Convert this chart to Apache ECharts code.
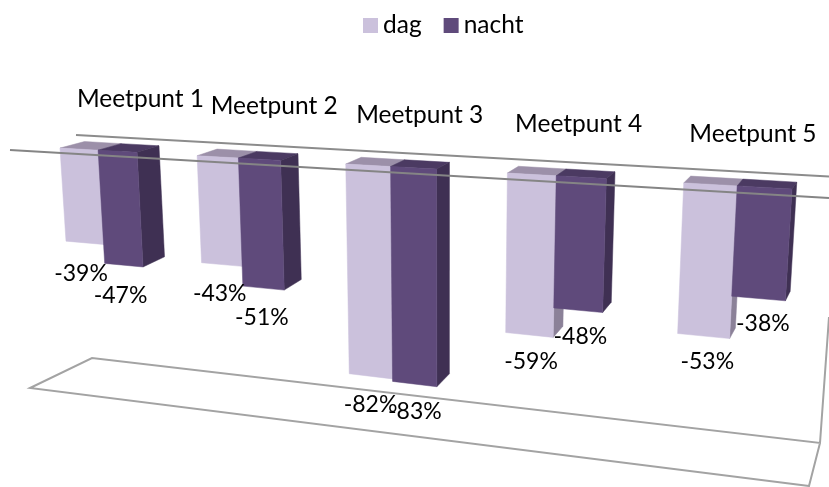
<!DOCTYPE html>
<html><head><meta charset="utf-8">
<style>html,body{margin:0;padding:0;background:#fff}#c{width:829px;height:487px}</style>
<script src="https://cdn.jsdelivr.net/npm/echarts@6/dist/echarts.min.js"></script>
</head><body><div id="c"></div>
<script>
const categories = ['Meetpunt 1','Meetpunt 2','Meetpunt 3','Meetpunt 4','Meetpunt 5'];
const dag = [-39,-43,-82,-59,-53];
const nacht = [-47,-51,-83,-48,-38];

const FONT = 'Lato, "Open Sans", sans-serif';

// homography from unit square to quad (p00,p10,p11,p01)
function quad(p00,p10,p11,p01){
  const [x0,y0]=p00,[x1,y1]=p10,[x2,y2]=p11,[x3,y3]=p01;
  const dx1=x1-x2,dx2=x3-x2,sx=x0-x1+x2-x3,dy1=y1-y2,dy2=y3-y2,sy=y0-y1+y2-y3;
  const det=dx1*dy2-dx2*dy1;
  const g=(sx*dy2-dx2*sy)/det,h=(dx1*sy-sx*dy1)/det;
  const a=x1-x0+g*x1,b=x3-x0+h*x3,d=y1-y0+g*y1,e=y3-y0+h*y3;
  return (u0,v)=>{const u=u0+0.028*u0*(1-u0);const w=g*u+h*v+1;return [(a*u+b*v+x0)/w,(d*u+e*v+y0)/w];};
}
const frontPlane = quad([32,146.5],[834,191.3],[815,479.8],[48,377.5]);
const backPlane  = quad([57.5,140],[838,184.5],[819,466],[72.5,363.5]);

const BAR = 0.286/5;  // bar width as share of the plot (gap width 150%)

function barItem(side, cols){
  return function(params, api){
    const cs = params.coordSys;
    const c = api.coord([api.value(0), api.value(1)]);
    const o = api.coord([api.value(0), 0]);
    const mid = (c[0]-cs.x)/cs.width;
    const s = (c[1]-cs.y)/cs.height, s0 = (o[1]-cs.y)/cs.height;
    const u0 = side<0 ? mid-BAR : mid, u1 = side<0 ? mid : mid+BAR;
    const F=frontPlane,B=backPlane;
    const poly=(pts,fill)=>({type:'polygon',shape:{points:pts},style:{fill:fill,stroke:fill,lineWidth:0.5},silent:true});
    const fb=F(u0,s),fr=F(u1,s);
    const lx=(fb[0]+fr[0])/2, ly=(fb[1]+fr[1])/2;
    return {type:'group',children:[
      poly([F(u0,s0),F(u1,s0),B(u1,s0),B(u0,s0)],cols.top),
      poly([F(u1,s0),B(u1,s0),B(u1,s),F(u1,s)],cols.side),
      poly([F(u0,s0),F(u1,s0),F(u1,s),F(u0,s)],cols.front),
      {type:'text',z2:100,style:{text:api.value(1)+'%',x:lx+(lx-400)*0.012,y:ly+28-(lx-400)*0.008,align:'center',verticalAlign:'middle',font:'23px '+FONT,fill:'#000'}}
    ]};
  };
}
function catItem(params, api){
  const cs=params.coordSys;
  const c=api.coord([api.value(0),0]);
  const p=backPlane((c[0]-cs.x)/cs.width,0);
  return {type:'text',style:{text:categories[api.value(0)],x:p[0]+19-(p[0]-135)*0.015,y:p[1]-45,align:'center',verticalAlign:'middle',font:'24.5px '+FONT,fill:'#000'}};
}
const toData = a => a.map((v,i)=>[i,v]);
const line = (pts,stroke,z)=>({type:'polyline',z:z,silent:true,shape:{points:pts},style:{fill:null,stroke:stroke,lineWidth:2}});

const chart = echarts.init(document.getElementById('c'),null,{renderer:'canvas'});
chart.setOption({
  animation:false,
  backgroundColor:'#fff',
  legend:{data:['dag','nacht'],left:358,top:8,itemWidth:15,itemHeight:15,itemGap:22,icon:'rect',
    textStyle:{fontFamily:FONT,fontSize:24.5,color:'#000'},selectedMode:false},
  grid:{left:0,right:0,top:0,bottom:0},
  xAxis:{type:'category',data:categories,show:false},
  yAxis:{type:'value',min:-100,max:0,show:false},
  graphic:[
    line([[76,135],[829,176.5]],'#8c8c8c',1),
    line([[829,317],[820,443],[92,358],[30,388],[809,486],[820,443]],'#a3a3a3',1),
    line([[10,150],[829,198]],'#858585',10)
  ],
  series:[
    {name:'dag',type:'custom',data:toData(dag),itemStyle:{color:'#cbc1dc'},renderItem:barItem(-1,{front:'#cbc1dc',top:'#9c90a9',side:'#8b8198'})},
    {name:'nacht',type:'custom',data:toData(nacht),itemStyle:{color:'#5f4a7b'},renderItem:barItem(1,{front:'#5f4a7b',top:'#4b3a62',side:'#3f3053'})},
    {name:'Meetpunt',type:'custom',data:categories.map((c,i)=>[i,0]),renderItem:catItem}
  ]
});
</script></body></html>
